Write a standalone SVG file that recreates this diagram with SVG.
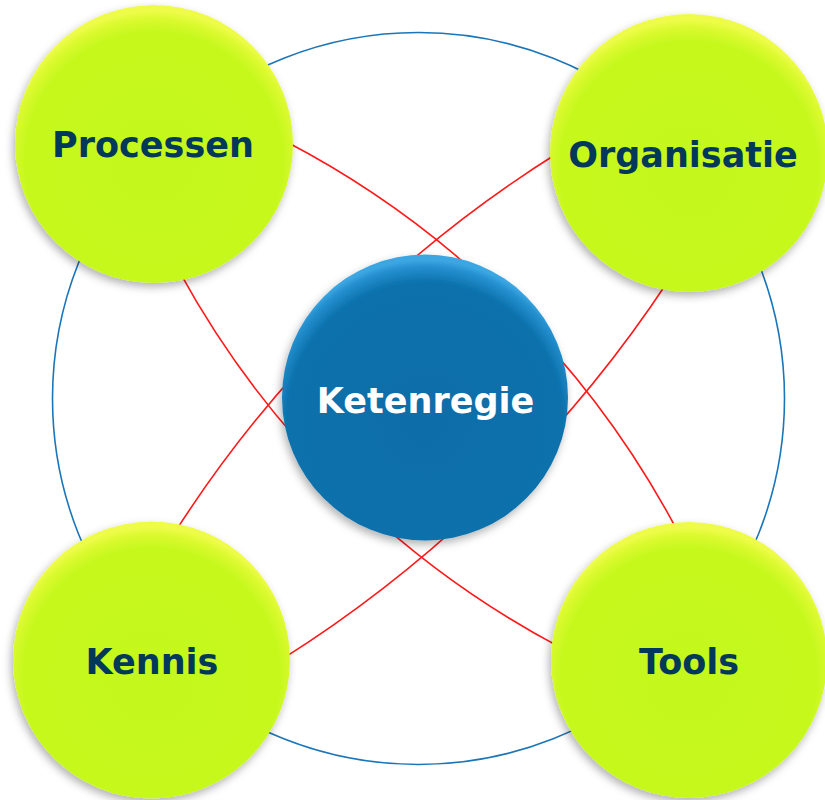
<svg xmlns="http://www.w3.org/2000/svg" width="825" height="800" viewBox="0 0 825 800">
<defs>
<radialGradient id="gGreen" cx="50%" cy="56%" r="54%">
<stop offset="0" stop-color="#c4f81b"/>
<stop offset="0.86" stop-color="#c6f81e"/>
<stop offset="0.95" stop-color="#dcfa30"/>
<stop offset="1" stop-color="#eefc4a"/>
</radialGradient>
<radialGradient id="gBlue" cx="50%" cy="58%" r="56%">
<stop offset="0" stop-color="#0a6da8"/>
<stop offset="0.86" stop-color="#0b71ac"/>
<stop offset="0.96" stop-color="#2590cf"/>
<stop offset="1" stop-color="#3aa6e2"/>
</radialGradient>
<filter id="sh" x="-20%" y="-20%" width="140%" height="140%">
<feDropShadow dx="-2" dy="4" stdDeviation="4" flood-color="#000" flood-opacity="0.3"/>
</filter>
<style>
.ring{fill:none;stroke:#1a76b9;stroke-width:1.6}
.link{fill:none;stroke:#ff1a1a;stroke-width:1.6}
.green{fill:url(#gGreen);filter:url(#sh)}
.blue{fill:url(#gBlue);filter:url(#sh)}
.lbl{font-family:"DejaVu Sans",Verdana,sans-serif;font-weight:bold;font-size:35px;text-anchor:middle;fill:#023859}
.lblw{fill:#ffffff}
</style>
</defs>
<rect width="825" height="800" fill="#ffffff"/>
<g id="connectors">
<circle class="ring" cx="418.5" cy="398.5" r="366"/>
<path class="link" d="M 284.9 141.0 A 929 929 0 0 1 677.1 530.3"/>
<path class="link" d="M 179.7 272.1 A 930 930 0 0 0 560.3 647.4"/>
<path class="link" d="M 558.6 152.5 A 1227 1227 0 0 0 175.1 531.9"/>
<path class="link" d="M 667.8 281.5 A 1284.5 1284.5 0 0 1 281.7 659.4"/>
</g>
<g id="ketenregie">
<circle class="blue" cx="425" cy="397.5" r="143"/>
<text class="lbl lblw" x="425.5" y="413">Ketenregie</text>
</g>
<g id="processen">
<circle class="green" cx="154" cy="144" r="139"/>
<text class="lbl" x="153" y="157">Processen</text>
</g>
<g id="organisatie">
<circle class="green" cx="689" cy="153" r="139"/>
<text class="lbl" x="683" y="167">Organisatie</text>
</g>
<g id="kennis">
<circle class="green" cx="151.5" cy="660" r="138.5"/>
<text class="lbl" x="152" y="674">Kennis</text>
</g>
<g id="tools">
<circle class="green" cx="689" cy="660" r="138"/>
<text class="lbl" x="689" y="674">Tools</text>
</g>
</svg>
